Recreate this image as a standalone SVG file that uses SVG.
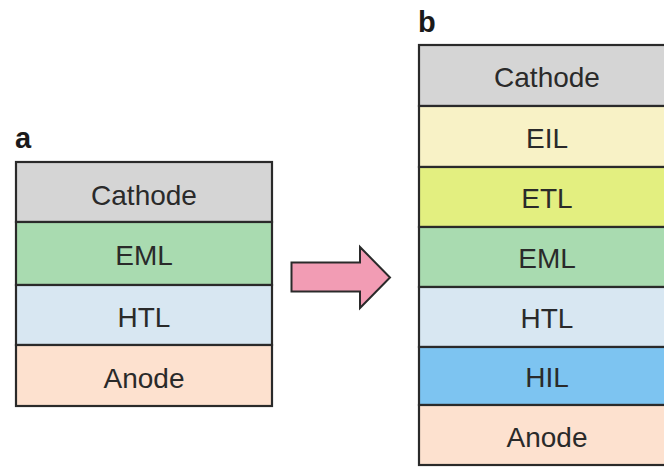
<svg xmlns="http://www.w3.org/2000/svg" width="664" height="468" viewBox="0 0 664 468">
  <style>
    .layer { stroke: #2a2a2a; stroke-width: 2.2; }
    .lbl { font-family: "Liberation Sans", Arial, sans-serif; font-size: 28px; fill: #2a2a2a; text-anchor: middle; }
    .panel { font-family: "Liberation Sans", Arial, sans-serif; font-size: 29px; font-weight: bold; fill: #1a1a1a; }
  </style>
  <rect x="0" y="0" width="664" height="468" fill="#ffffff"/>
  <text class="panel" x="15" y="148">a</text>
  <text class="panel" x="418" y="32">b</text>

  <g id="stack-a">
    <g id="a-cathode"><rect class="layer" x="16" y="162" width="256" height="60" fill="#d5d5d5"/><text class="lbl" x="144" y="205">Cathode</text></g>
    <g id="a-eml"><rect class="layer" x="16" y="222" width="256" height="63" fill="#a9dbb0"/><text class="lbl" x="144" y="265">EML</text></g>
    <g id="a-htl"><rect class="layer" x="16" y="285" width="256" height="60" fill="#d8e7f2"/><text class="lbl" x="144" y="327">HTL</text></g>
    <g id="a-anode"><rect class="layer" x="16" y="345" width="256" height="61" fill="#fde1cf"/><text class="lbl" x="144" y="388">Anode</text></g>
  </g>

  <g id="connectors">
    <polygon points="291.5,262.5 360,262.5 360,247 390,277.5 360,308 360,291.5 291.5,291.5" fill="#f29cb4" stroke="#2a2a2a" stroke-width="2" stroke-linejoin="miter"/>
  </g>

  <g id="stack-b">
    <g id="b-cathode"><rect class="layer" x="419" y="45" width="256" height="61" fill="#d5d5d5"/><text class="lbl" x="547" y="87">Cathode</text></g>
    <g id="b-eil"><rect class="layer" x="419" y="106" width="256" height="61" fill="#f8f2c6"/><text class="lbl" x="547" y="148">EIL</text></g>
    <g id="b-etl"><rect class="layer" x="419" y="167" width="256" height="60" fill="#e3ef80"/><text class="lbl" x="547" y="208">ETL</text></g>
    <g id="b-eml"><rect class="layer" x="419" y="227" width="256" height="60" fill="#a9dbb0"/><text class="lbl" x="547" y="268">EML</text></g>
    <g id="b-htl"><rect class="layer" x="419" y="287" width="256" height="60" fill="#d8e7f2"/><text class="lbl" x="547" y="328">HTL</text></g>
    <g id="b-hil"><rect class="layer" x="419" y="347" width="256" height="58" fill="#7dc4f1"/><text class="lbl" x="547" y="387">HIL</text></g>
    <g id="b-anode"><rect class="layer" x="419" y="405" width="256" height="60" fill="#fde1cf"/><text class="lbl" x="547" y="447">Anode</text></g>
  </g>
</svg>
